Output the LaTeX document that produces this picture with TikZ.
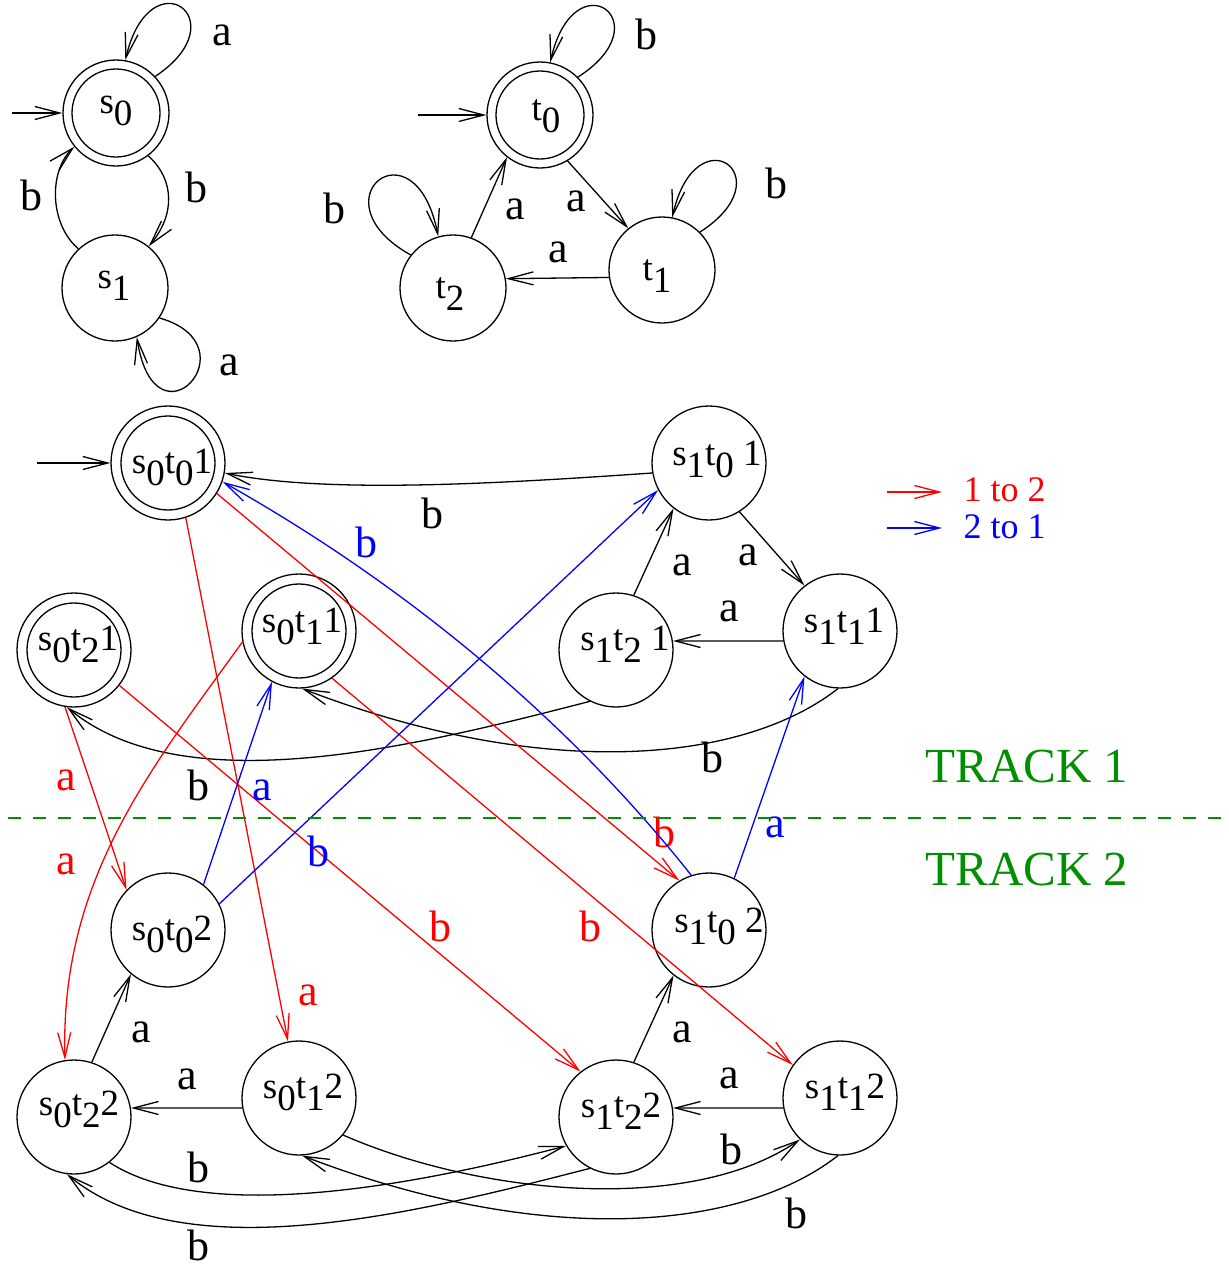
\documentclass[tikz,border=0pt]{standalone}
\usepackage{fontspec}
\setmainfont{Liberation Serif}
\usetikzlibrary{arrows.meta}
\newcommand\subd[1]{\raisebox{-0.35em}[0pt][0pt]{#1}}
\definecolor{trackgreen}{rgb}{0,0.56,0}
\begin{document}
\begin{tikzpicture}[x=0.5pt,y=-0.5pt,line width=0.65pt,
  >={Straight Barb[length=12.5pt,width=6.5pt]},
  st/.style={circle,draw,minimum size=57pt,inner sep=0pt},
  sts/.style={circle,draw,minimum size=53pt,inner sep=0pt},
  acc/.style={path picture={\draw[line width=0.65pt] (path picture bounding box.center) circle (#1);}},
  txt/.style={font=\rmfamily\fontsize{18.5}{20}\selectfont,anchor=base,inner sep=0pt},
  lbl/.style={font=\rmfamily\fontsize{22}{24}\selectfont,inner sep=0pt},
  rl/.style={lbl,text=red},
  bl/.style={lbl,text=blue},
  re/.style={->,red},
  be/.style={->,blue},
  trk/.style={font=\rmfamily\fontsize{24.5}{26}\selectfont,text=trackgreen,anchor=base west,inner sep=0pt},
  leg/.style={font=\rmfamily\fontsize{18}{20}\selectfont,anchor=base west,inner sep=0pt}]
\useasboundingbox (0,0) rectangle (1229,1269);

% ---------- automaton S ----------
\node[sts,acc=22pt] (s0) at (116,113) {};
\node[sts] (s1) at (115,288) {};
\node[txt] (s0l) at (116,113) {s\subd{0}};
\node[txt] (s1l) at (114,288) {s\subd{1}};
\coordinate (is) at (12,113);
\draw[->] (is) -- (s0.west);
\draw[->] (s0.43) .. controls (240,20) and (150,-45) .. (s0.80);
\node[lbl] (la1) at (222,35) {a};
\draw[->] (s0.-53) .. controls (175,180) and (175,215) .. (s1.51);
\node[lbl] (lb1) at (196,187) {b};
\draw[->] (s1.133) .. controls (50,225) and (48,172) .. (s0.219);
\node[lbl] (lb2) at (31,195) {b};
\draw[->] (s1.-34) .. controls (255,345) and (155,455) .. (s1.-66);
\node[lbl] (la2) at (229,365) {a};

% ---------- automaton T ----------
\node[sts,acc=22pt] (t0) at (540,115) {};
\node[sts] (t1) at (662,270) {};
\node[sts] (t2) at (453,288) {};
\node[txt] (t0l) at (546,120) {t\subd{0}};
\node[txt] (t1l) at (657,280) {t\subd{1}};
\node[txt] (t2l) at (450,298) {t\subd{2}};
\coordinate (it) at (418,115);
\draw[->] (it) -- (t0.west);
\draw[->] (t0.45) .. controls (664,22) and (574,-43) .. (t0.79);
\node[lbl] (lb3) at (646,34) {b};
\draw[->] (t1.45) .. controls (786,177) and (696,112) .. (t1.79);
\node[lbl] (lb4) at (776,183) {b};
\draw[->] (t2.142) .. controls (312,200) and (415,118) .. (t2.106);
\node[lbl] (lb5) at (334,208) {b};
\draw[->] (t0.-59) -- (t1.129);
\node[lbl] (la3) at (576,201) {a};
\draw[->] (t1.188) -- (t2.10);
\node[lbl] (la4) at (558,252) {a};
\draw[->] (t2.70) -- (t0.232);
\node[lbl] (la5) at (515,209) {a};

% ---------- product, track 1 ----------
\node[st,acc=23.5pt] (p001) at (168,463) {};
\node[st] (p101) at (709,463) {};
\node[st,acc=23.5pt] (p021) at (74,650) {};
\node[st,acc=23.5pt] (p011) at (299,631) {};
\node[st] (p121) at (616,650) {};
\node[st] (p111) at (840,631) {};
\node[txt] (p001l) at (172,473) {s\subd{0}t\subd{0}1};
\node[txt] (p101l) at (717,465) {s\subd{1}t\subd{0} 1};
\node[txt] (p021l) at (78,650) {s\subd{0}t\subd{2}1};
\node[txt] (p011l) at (302,632) {s\subd{0}t\subd{1}1};
\node[txt] (p121l) at (625,650) {s\subd{1}t\subd{2} 1};
\node[txt] (p111l) at (844,632) {s\subd{1}t\subd{1}1};

% ---------- product, track 2 ----------
\node[st] (p002) at (168,930) {};
\node[st] (p102) at (709,930) {};
\node[st] (p022) at (74,1117) {};
\node[st] (p012) at (299,1098) {};
\node[st] (p122) at (616,1117) {};
\node[st] (p112) at (840,1098) {};
\node[txt] (p002l) at (172,940) {s\subd{0}t\subd{0}2};
\node[txt] (p102l) at (719,932) {s\subd{1}t\subd{0} 2};
\node[txt] (p022l) at (79,1115) {s\subd{0}t\subd{2}2};
\node[txt] (p012l) at (303,1098) {s\subd{0}t\subd{1}2};
\node[txt] (p122l) at (621,1117) {s\subd{1}t\subd{2}2};
\node[txt] (p112l) at (845,1098) {s\subd{1}t\subd{1}2};

% initial
\coordinate (ip) at (37,463);
\draw[->] (ip) -- (p001.west);

% black edges track 1
\draw[->] (p101.190) .. controls (520,482) and (330,495) .. (p001.-10);
\node[lbl] (lb6) at (432,513) {b};
\draw[->] (p101.-58) -- (p111.128);
\node[lbl] (la6) at (748,555) {a};
\draw[->] (p111.190) -- (p121.9);
\node[lbl] (la7) at (729,611) {a};
\draw[->] (p121.72) -- (p101.232);
\node[lbl] (la8) at (682,565) {a};
\draw[->] (p121.243) .. controls (420,745) and (185,805) .. (p021.263);
\node[lbl] (lb7) at (198,785) {b};
\draw[->] (p111.268) .. controls (740,765) and (540,780) .. (p011.273);
\node[lbl] (lb8) at (712,757) {b};

% black edges track 2
\draw[->] (p012.190) -- (p022.9);
\node[lbl] (la9) at (187,1079) {a};
\draw[->] (p022.72) -- (p002.230);
\node[lbl] (la10) at (141,1032) {a};
\draw[->] (p112.190) -- (p122.9);
\node[lbl] (la11) at (729,1078) {a};
\draw[->] (p122.72) -- (p102.232);
\node[lbl] (la12) at (682,1032) {a};
\draw[->] (p022.-52) .. controls (190,1215) and (360,1200) .. (p122.210);
\node[lbl] (lb9) at (198,1167) {b};
\draw[->] (p122.243) .. controls (420,1212) and (185,1272) .. (p022.263);
\node[lbl] (lb10) at (198,1245) {b};
\draw[->] (p012.-40) .. controls (480,1195) and (690,1215) .. (p112.226);
\node[lbl] (lb11) at (731,1149) {b};
\draw[->] (p112.268) .. controls (740,1232) and (540,1247) .. (p012.273);
\node[lbl] (lb12) at (796,1213) {b};

% red edges (1 to 2)
\draw[re] (p021.261) -- (p002.136);
\node[rl] (ra1) at (66,780) {a};
\draw[re] (p011.191) .. controls (150,770) and (60,880) .. (p022.99);
\node[rl] (ra2) at (66,864) {a};
\draw[re] (p001.-72) -- (p012.101);
\node[rl] (ra3) at (308,995) {a};
\draw[re] (p001.-32) -- (p102.121);
\node[rl] (rb1) at (664,832) {b};
\draw[re] (p021.-38) -- (p122.128);
\node[rl] (rb2) at (440,926) {b};
\draw[re] (p011.-55) -- (p112.145);
\node[rl] (rb3) at (590,926) {b};

% blue edges (2 to 1)
\draw[be] (p002.52) -- (p011.242);
\node[bl] (ba1) at (262,790) {a};
\draw[be] (p002.27) -- (p101.208);
\node[bl] (bb1) at (318,851) {b};
\draw[be] (p102.108) .. controls (600,760) and (450,610) .. (p001.-19);
\node[bl] (bb2) at (366,542) {b};
\draw[be] (p102.64) -- (p111.232);
\node[bl] (ba2) at (775,827) {a};

% legend
\coordinate (lra) at (887,492);
\coordinate (lrb) at (942,492);
\coordinate (lba) at (887,528);
\coordinate (lbb) at (942,528);
\draw[re] (lra) -- (lrb);
\draw[be] (lba) -- (lbb);
\node[leg,text=red] (leg1) at (963,501) {1 to 2};
\node[leg,text=blue] (leg2) at (963,538) {2 to 1};

% tracks
\coordinate (dl) at (8,818);
\coordinate (dr) at (1229,818);
\draw[trackgreen,dash pattern=on 6.5pt off 6pt] (dl) -- (dr);
\node[trk] (tr1) at (925,782) {TRACK 1};
\node[trk] (tr2) at (925,885) {TRACK 2};
\end{tikzpicture}
\end{document}
